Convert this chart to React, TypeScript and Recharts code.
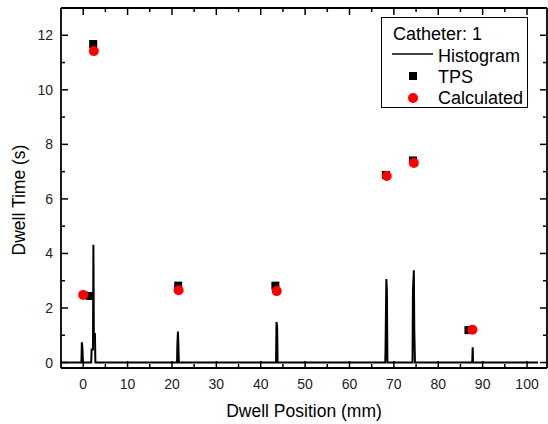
import React from 'react';
import { ComposedChart, Line, Scatter, XAxis, YAxis, Legend } from 'recharts';

// Histogram (dwell position mm -> dwell time s)
const histPos = [-5, -0.4, -0.3, -0.2, -0.05, 1.8, 1.9, 2.2, 2.3, 2.4, 2.65, 2.75, 21.15, 21.22, 21.35, 21.45, 21.55, 43.45, 43.55, 43.7, 43.8, 68.05, 68.12, 68.3, 68.42, 68.55, 74.2, 74.3, 74.5, 74.6, 74.75, 87.65, 87.75, 87.85, 102.5];
const histVal = [0, 0, 0.74, 0.6, 0, 0, 0.48, 0.48, 4.32, 1.05, 1.05, 0, 0, 0.66, 1.14, 0.66, 0, 0, 1.49, 1.3, 0, 0, 0.47, 3.06, 2.67, 0, 0, 2.67, 3.38, 1.2, 0, 0, 0.56, 0, 0];

// TPS dwell times
const tpsPos = [1.5, 2.25, 21.4, 43.3, 68.2, 74.3, 86.8];
const tpsVal = [2.44, 11.68, 2.82, 2.82, 6.88, 7.41, 1.19];

// Calculated dwell times
const calcPos = [0, 2.4, 21.5, 43.6, 68.4, 74.5, 87.7];
const calcVal = [2.48, 11.42, 2.65, 2.62, 6.84, 7.32, 1.2];

const xTicks = [0, 5, 10, 15, 20, 25, 30, 35, 40, 45, 50, 55, 60, 65, 70, 75, 80, 85, 90, 95, 100];
const yTicks = [0, 1, 2, 3, 4, 5, 6, 7, 8, 9, 10, 11, 12];
const xDomain = [-5, 104.5];
const yDomain = [-0.2, 13];

const legendTitle = 'Catheter: 1';
const seriesNames = ['Histogram', 'TPS', 'Calculated'];
const xTitle = 'Dwell Position (mm)';
const yTitle = 'Dwell Time (s)';

const histData = histPos.map((x, i) => ({ x, y: histVal[i] }));
const tpsData = tpsPos.map((x, i) => ({ x, y: tpsVal[i] }));
const calcData = calcPos.map((x, i) => ({ x, y: calcVal[i] }));

const FONT = '"Liberation Sans", Arial, Helvetica, sans-serif';
const TICK_COLOR = '#222';

function BottomTick(props: any) {
  const { x, y, payload } = props;
  const v = payload.value;
  const major = v % 10 === 0;
  return (
    <g>
      <line x1={x} x2={x} y1={y} y2={y - (major ? 7 : 4)} stroke="#000" strokeWidth={1.5} />
      {major && (
        <text x={x} y={y + 20.5} textAnchor="middle" fontSize={14} fill={TICK_COLOR} fontFamily={FONT}>
          {v}
        </text>
      )}
    </g>
  );
}

function TopTick(props: any) {
  const { x, y, payload } = props;
  const major = payload.value % 10 === 0;
  return <line x1={x} x2={x} y1={y} y2={y + (major ? 7 : 4)} stroke="#000" strokeWidth={1.5} />;
}

function LeftTick(props: any) {
  const { x, y, payload } = props;
  const v = payload.value;
  const major = v % 2 === 0;
  return (
    <g>
      <line x1={x} x2={x + (major ? 7 : 4)} y1={y} y2={y} stroke="#000" strokeWidth={1.5} />
      {major && (
        <text x={x - 8} y={y + 5} textAnchor="end" fontSize={14} fill={TICK_COLOR} fontFamily={FONT}>
          {v}
        </text>
      )}
    </g>
  );
}

function RightTick(props: any) {
  const { x, y, payload } = props;
  const major = payload.value % 2 === 0;
  return <line x1={x} x2={x - (major ? 7 : 4)} y1={y} y2={y} stroke="#000" strokeWidth={1.5} />;
}

function LegendBox() {
  const ts = { fontSize: 18, fontFamily: FONT, fill: '#000' };
  return (
    <svg width={147} height={91} style={{ display: 'block' }}>
      <rect x={0.5} y={0.5} width={146} height={90} fill="#fff" stroke="#000" strokeWidth={1} />
      <text x={12} y={23} {...ts}>{legendTitle}</text>
      <line x1={11} x2={52} y1={37} y2={37} stroke="#000" strokeWidth={1.5} />
      <text x={57} y={44.5} {...ts}>{seriesNames[0]}</text>
      <rect x={28} y={55} width={8} height={8} fill="#000" />
      <text x={57} y={65.5} {...ts}>{seriesNames[1]}</text>
      <circle cx={32} cy={81} r={5} fill="#f00" />
      <text x={57} y={87} {...ts}>{seriesNames[2]}</text>
    </svg>
  );
}

const SquareShape = (p: any) => <rect x={p.cx - 4} y={p.cy - 4} width={8} height={8} fill="#000" />;
const CircleShape = (p: any) => <circle cx={p.cx} cy={p.cy} r={5} fill="#f00" />;

const YLabel = (p: any) => {
  const vb = p.viewBox || { x: 0, y: 8, width: 61, height: 360 };
  const cx = vb.x + 25;
  const cy = vb.y + vb.height / 2 + 12;
  return (
    <text x={cx} y={cy} transform={`rotate(-90, ${cx}, ${cy})`} textAnchor="middle" fontSize={17.5} fontFamily={FONT} fill="#000">
      {yTitle}
    </text>
  );
};

const XLabel = (p: any) => {
  const vb = p.viewBox || { x: 61, y: 368, width: 486, height: 56 };
  return (
    <text x={vb.x + vb.width / 2} y={vb.y + 48.5} textAnchor="middle" fontSize={17.5} fontFamily={FONT} fill="#000">
      {xTitle}
    </text>
  );
};

const AX = { stroke: '#000', strokeWidth: 1.8 };

export default function App() {
  return (
    <div style={{ width: 548, height: 424, background: '#fff' }}>
      <style>{'body{margin:0;background:#fff}'}</style>
      <ComposedChart width={548} height={424} margin={{ top: 7, right: 0, bottom: 0, left: 0 }}>
        <XAxis
          xAxisId="x"
          dataKey="x"
          type="number"
          domain={xDomain}
          allowDataOverflow
          ticks={xTicks}
          interval={0}
          height={56}
          tickSize={0}
          tickMargin={0}
          tickLine={false}
          axisLine={AX}
          tick={<BottomTick />}
          label={<XLabel />}
        />
        <XAxis
          xAxisId="xt"
          dataKey="x"
          type="number"
          orientation="top"
          domain={xDomain}
          allowDataOverflow
          ticks={xTicks}
          interval={0}
          height={1}
          tickSize={0}
          tickMargin={0}
          tickLine={false}
          axisLine={AX}
          tick={<TopTick />}
        />
        <YAxis
          yAxisId="y"
          dataKey="y"
          type="number"
          domain={yDomain}
          allowDataOverflow
          ticks={yTicks}
          interval={0}
          width={61}
          tickSize={0}
          tickMargin={0}
          tickLine={false}
          axisLine={AX}
          tick={<LeftTick />}
          label={<YLabel />}
        />
        <YAxis
          yAxisId="yr"
          dataKey="y"
          type="number"
          orientation="right"
          domain={yDomain}
          allowDataOverflow
          ticks={yTicks}
          interval={0}
          width={1}
          tickSize={0}
          tickMargin={0}
          tickLine={false}
          axisLine={AX}
          tick={<RightTick />}
        />
        <Line
          xAxisId="x"
          yAxisId="y"
          data={histData}
          dataKey="y"
          type="linear"
          stroke="#000"
          strokeWidth={2}
          dot={false}
          activeDot={false}
          isAnimationActive={false}
          name={seriesNames[0]}
        />
        <Scatter
          xAxisId="x"
          yAxisId="y"
          data={tpsData}
          dataKey="y"
          shape={SquareShape}
          isAnimationActive={false}
          name={seriesNames[1]}
        />
        <Scatter
          xAxisId="x"
          yAxisId="y"
          data={calcData}
          dataKey="y"
          shape={CircleShape}
          isAnimationActive={false}
          name={seriesNames[2]}
        />
        <Legend
          layout="vertical"
          align="center"
          verticalAlign="middle"
          wrapperStyle={{ top: 17, left: 381, width: 147, height: 91 }}
          content={<LegendBox />}
        />
      </ComposedChart>
    </div>
  );
}
